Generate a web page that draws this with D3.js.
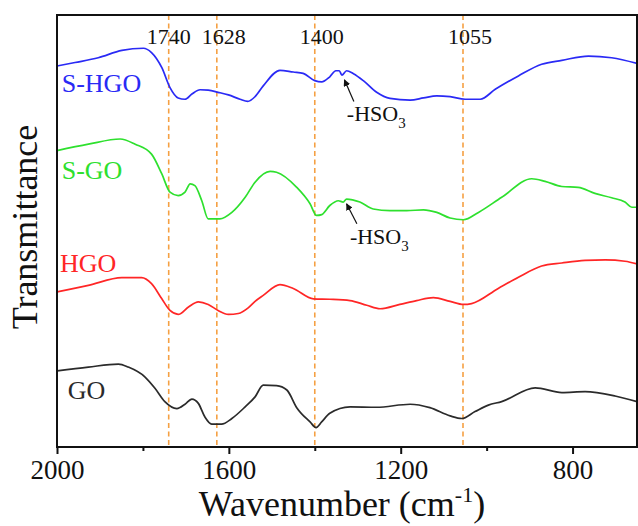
<!DOCTYPE html>
<html>
<head>
<meta charset="utf-8">
<script src="https://cdn.jsdelivr.net/npm/d3@7/dist/d3.min.js"></script>
<style>
  html, body { margin: 0; padding: 0; background: #fff; }
  svg { display: block; font-family: "Liberation Serif", "Times New Roman", serif; }
</style>
</head>
<body>
<svg id="chart" width="638" height="526"></svg>
<script>
// FTIR spectra (transmittance, arbitrary units, offset per sample)
const sHGO = [[2000,88.2],[1958,89.0],[1904,90.1],[1849,91.8],[1799,92.3],[1780,91.3],[1756,87.8],[1737,83.2],[1718,80.8],[1702,80.5],[1686,81.7],[1667,82.7],[1648,82.6],[1625,82.1],[1601,81.5],[1574,80.5],[1556,80.0],[1539,81.1],[1520,83.6],[1481,87.2],[1450,86.8],[1427,86.5],[1400,84.8],[1384,84.5],[1365,85.7],[1351,87.1],[1343,87.1],[1337,86.1],[1326,87.1],[1310,86.4],[1287,84.8],[1256,82.1],[1225,80.7],[1178,80.3],[1147,80.8],[1116,81.3],[1085,81.1],[1050,80.5],[1015,80.5],[980,82.8],[926,85.9],[872,88.6],[825,89.5],[763,90.5],[709,90.1],[650,88.8]];
const sGO = [[2000,68.6],[1927,70.1],[1853,71.3],[1818,70.1],[1780,67.8],[1756,63.2],[1737,59.0],[1718,58.2],[1702,59.0],[1690,60.9],[1679,60.5],[1663,57.0],[1648,52.8],[1621,52.8],[1593,54.3],[1562,57.8],[1539,61.3],[1504,63.8],[1489,63.6],[1442,60.1],[1411,56.3],[1396,53.6],[1384,53.8],[1365,55.9],[1345,57.0],[1334,56.7],[1326,57.4],[1295,56.7],[1264,55.1],[1225,54.7],[1186,54.7],[1147,54.9],[1116,54.3],[1085,53.0],[1054,52.6],[1019,54.3],[965,57.8],[895,62.1],[864,61.5],[825,60.3],[787,60.1],[748,58.7],[709,57.7],[678,56.7],[662,55.5],[650,55.5]];
const hGO = [[2000,35.9],[1927,37.4],[1849,39.2],[1803,39.2],[1780,37.8],[1756,34.3],[1737,31.6],[1718,30.7],[1694,32.4],[1671,33.6],[1648,33.0],[1625,31.6],[1601,30.7],[1578,30.9],[1555,32.2],[1539,33.7],[1520,35.1],[1481,37.6],[1450,36.7],[1403,34.3],[1365,34.2],[1318,33.9],[1279,32.8],[1248,32.0],[1202,33.0],[1163,33.9],[1124,34.6],[1085,33.7],[1054,33.0],[1035,33.2],[973,36.7],[926,39.3],[872,41.9],[825,42.6],[771,43.2],[724,43.3],[678,43.0],[650,42.4]];
const gO = [[2000,17.6],[1927,18.5],[1857,19.2],[1834,18.5],[1795,16.2],[1772,13.6],[1749,10.5],[1721,8.9],[1702,9.9],[1686,11.1],[1671,10.1],[1656,7.0],[1640,5.3],[1617,5.3],[1593,6.6],[1562,9.3],[1539,11.6],[1520,14.3],[1489,14.2],[1465,13.2],[1442,9.1],[1411,5.8],[1397,4.5],[1384,5.8],[1365,7.8],[1318,9.3],[1256,9.2],[1178,9.9],[1132,9.1],[1085,7.2],[1058,6.6],[1027,8.2],[996,9.7],[965,10.5],[887,13.7],[825,12.6],[771,12.8],[701,11.8],[650,10.5]];

const seriesNames = ["S-HGO", "S-GO", "HGO", "GO"];
const seriesData = [sHGO, sGO, hGO, gO];
const seriesColors = ["#2a2af5", "#2ee02e", "#ff2626", "#2b2b2b"];
// label anchor (wavenumber, transmittance) for each sample name
const seriesLabelAt = [[1989, 82.1], [1989, 62.1], [1993, 40.5], [1975, 11.2]];

const peakPositions = [1740, 1628, 1400, 1055];
const peakLabelShift = [0, 7, 7, 7];

const xMajorTicks = [2000, 1600, 1200, 800];
const xMinorTicks = [1800, 1400, 1000];

// -HSO3 annotations: arrow tip and tail, in (wavenumber, transmittance)
const hso3Notes = [
  { tip: [1331, 85.0], tail: [1309, 80.0] },
  { tip: [1326, 56.3], tail: [1302, 51.7] }
];

const svg = d3.select("#chart");
const margin = { left: 57, right: 1, top: 15, bottom: 79 };
const W = 638, H = 526;
const x0 = margin.left, x1 = W - margin.right, y0 = H - margin.bottom, y1 = margin.top;

const x = d3.scaleLinear().domain([2000, 650]).range([x0, x1]);
const y = d3.scaleLinear().domain([0, 100]).range([y0, y1]);

// dashed peak markers
svg.append("g").selectAll("line").data(peakPositions).join("line")
  .attr("x1", d => x(d)).attr("x2", d => x(d))
  .attr("y1", y1).attr("y2", y0)
  .attr("stroke", "#f5a043").attr("stroke-width", 1.6)
  .attr("stroke-dasharray", "5,3.5");

svg.append("g").selectAll("text").data(peakPositions).join("text")
  .attr("x", (d, i) => x(d) + peakLabelShift[i])
  .attr("y", 44)
  .attr("text-anchor", "middle")
  .attr("font-size", 22)
  .attr("fill", "#111")
  .text(d => d);

// spectra
const line = d3.line().x(d => x(d[0])).y(d => y(d[1])).curve(d3.curveMonotoneX);
svg.append("g").selectAll("path").data(seriesData).join("path")
  .attr("d", line)
  .attr("fill", "none")
  .attr("stroke", (d, i) => seriesColors[i])
  .attr("stroke-width", 1.7)
  .attr("stroke-linejoin", "round");

svg.append("g").selectAll("text").data(seriesNames).join("text")
  .attr("x", (d, i) => x(seriesLabelAt[i][0]))
  .attr("y", (d, i) => y(seriesLabelAt[i][1]))
  .attr("font-size", 26)
  .attr("fill", (d, i) => seriesColors[i])
  .text(d => d);

// arrows
const defs = svg.append("defs");
defs.append("marker").attr("id", "head")
  .attr("viewBox", "0 0 10 10").attr("refX", 9).attr("refY", 5)
  .attr("markerWidth", 7).attr("markerHeight", 7)
  .attr("markerUnits", "userSpaceOnUse")
  .attr("orient", "auto")
  .append("path").attr("d", "M0,0 L10,5 L0,10 Z").attr("fill", "#111");

const notes = svg.append("g");
hso3Notes.forEach(n => {
  notes.append("line")
    .attr("x1", x(n.tail[0])).attr("y1", y(n.tail[1]))
    .attr("x2", x(n.tip[0])).attr("y2", y(n.tip[1]))
    .attr("stroke", "#111").attr("stroke-width", 1.2)
    .attr("marker-end", "url(#head)");
  const t = notes.append("text")
    .attr("x", x(n.tail[0]) - 7)
    .attr("y", y(n.tail[1]) + 20)
    .attr("font-size", 22).attr("fill", "#111");
  t.append("tspan").text("-HSO");
  t.append("tspan").attr("font-size", 15).attr("dy", 7).text("3");
});

// frame
svg.append("rect")
  .attr("x", x0).attr("y", y1).attr("width", x1 - x0).attr("height", y0 - y1)
  .attr("fill", "none").attr("stroke", "#111").attr("stroke-width", 2);

// x axis
const xAxis = d3.axisBottom(x).tickValues(xMajorTicks).tickSize(7).tickPadding(6).tickFormat(d3.format("d"));
const gx = svg.append("g").attr("transform", `translate(0,${y0})`).call(xAxis);
gx.select(".domain").remove();
gx.selectAll(".tick line").attr("stroke", "#111").attr("stroke-width", 2);
gx.selectAll(".tick text").attr("font-size", 27).attr("font-family", "Liberation Serif").attr("fill", "#111");

const gxm = svg.append("g").attr("transform", `translate(0,${y0})`)
  .call(d3.axisBottom(x).tickValues(xMinorTicks).tickSize(4).tickFormat(""));
gxm.select(".domain").remove();
gxm.selectAll(".tick line").attr("stroke", "#111").attr("stroke-width", 2);

// axis titles
const xt = svg.append("text")
  .attr("x", (x0 + x1) / 2 - 5).attr("y", 516)
  .attr("text-anchor", "middle").attr("font-size", 36).attr("fill", "#111");
xt.append("tspan").text("Wavenumber (cm");
xt.append("tspan").attr("font-size", 22).attr("dy", -14).text("-1");
xt.append("tspan").attr("dy", 14).text(")");

svg.append("text")
  .attr("transform", `translate(37,${(y0 + y1) / 2 - 4}) rotate(-90)`)
  .attr("text-anchor", "middle").attr("font-size", 36).attr("fill", "#111")
  .text("Transmittance");
</script>
</body>
</html>
